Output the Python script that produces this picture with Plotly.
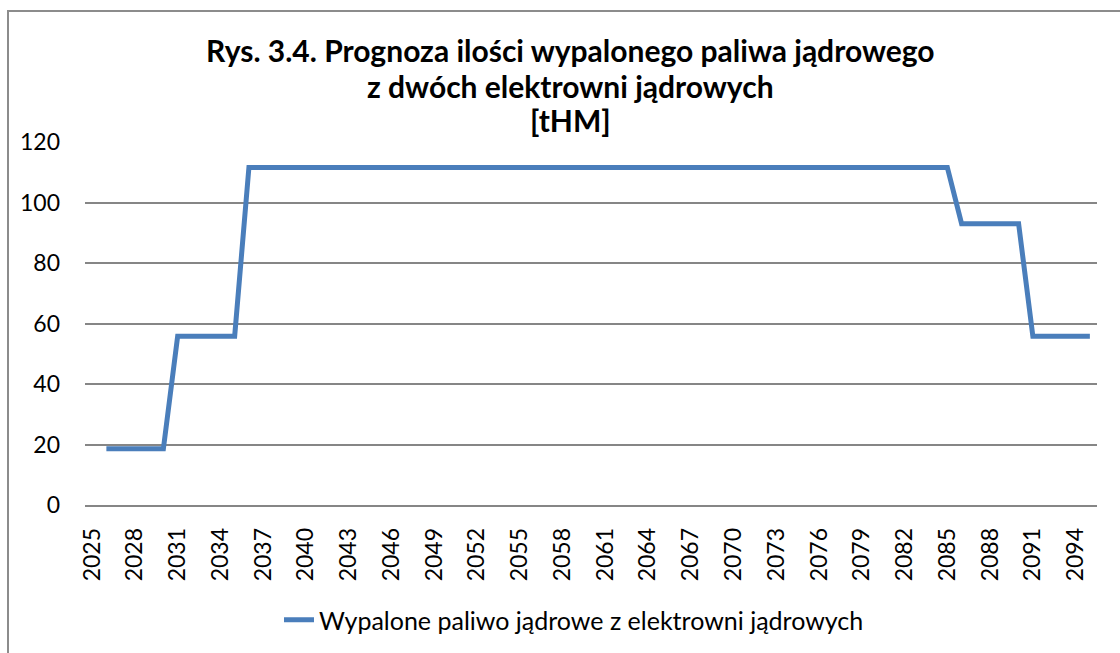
import plotly.graph_objects as go

years = [2026, 2027, 2028, 2029, 2030, 2031, 2032, 2033, 2034, 2035,
         2036, 2037, 2038, 2039, 2040, 2041, 2042, 2043, 2044, 2045,
         2046, 2047, 2048, 2049, 2050, 2051, 2052, 2053, 2054, 2055,
         2056, 2057, 2058, 2059, 2060, 2061, 2062, 2063, 2064, 2065,
         2066, 2067, 2068, 2069, 2070, 2071, 2072, 2073, 2074, 2075,
         2076, 2077, 2078, 2079, 2080, 2081, 2082, 2083, 2084, 2085,
         2086, 2087, 2088, 2089, 2090, 2091, 2092, 2093, 2094, 2095]
values = [18.6, 18.6, 18.6, 18.6, 18.6, 55.8, 55.8, 55.8, 55.8, 55.8,
          111.6, 111.6, 111.6, 111.6, 111.6, 111.6, 111.6, 111.6, 111.6, 111.6,
          111.6, 111.6, 111.6, 111.6, 111.6, 111.6, 111.6, 111.6, 111.6, 111.6,
          111.6, 111.6, 111.6, 111.6, 111.6, 111.6, 111.6, 111.6, 111.6, 111.6,
          111.6, 111.6, 111.6, 111.6, 111.6, 111.6, 111.6, 111.6, 111.6, 111.6,
          111.6, 111.6, 111.6, 111.6, 111.6, 111.6, 111.6, 111.6, 111.6, 111.6,
          93.0, 93.0, 93.0, 93.0, 93.0, 55.8, 55.8, 55.8, 55.8, 55.8]
tick_years = [2025, 2028, 2031, 2034, 2037, 2040, 2043, 2046, 2049, 2052,
              2055, 2058, 2061, 2064, 2067, 2070, 2073, 2076, 2079, 2082,
              2085, 2088, 2091, 2094]
series_name = "Wypalone paliwo jądrowe z elektrowni jądrowych"
title_lines = ["Rys. 3.4. Prognoza ilości wypalonego paliwa jądrowego",
               "z dwóch elektrowni jądrowych",
               "[tHM]"]
title_line_y = [50, 86, 120]

FONT = "Lato"
W, H = 1120, 653
L, R, T, B = 85, 23, 142, 148
pw, ph = W - L - R, H - T - B

def px_x(x):
    return (x - L) / pw

def px_y(y):
    return (H - B - y) / ph

fig = go.Figure()
fig.add_trace(go.Scatter(
    x=years, y=values, mode="lines", name=series_name,
    line=dict(color="#4A7EBB", width=5),
))

fig.update_layout(
    width=W, height=H,
    margin=dict(l=L, r=R, t=T, b=B, autoexpand=False),
    paper_bgcolor="white", plot_bgcolor="white",
    font=dict(family=FONT, color="#000000"),
    showlegend=True,
    legend=dict(orientation="h", x=px_x(574), xanchor="center",
                y=px_y(620), yanchor="middle",
                font=dict(size=25, family=FONT),
                bgcolor="rgba(0,0,0,0)"),
    xaxis=dict(
        range=[2024.5, 2095.5],
        tickmode="array", tickvals=tick_years,
        ticktext=[str(t) for t in tick_years],
        tickangle=-90, tickfont=dict(size=23, family=FONT),
        showgrid=False, zeroline=False,
        showline=True, linecolor="#868686", linewidth=1.5,
        ticks="", ticklabelstandoff=12,
    ),
    yaxis=dict(
        range=[0, 120], tickvals=[0, 20, 40, 60, 80, 100, 120],
        tickfont=dict(size=23, family=FONT),
        showgrid=True, gridcolor="#868686", gridwidth=1.5,
        zeroline=False, showline=False, ticks="",
        ticklabelstandoff=24,
    ),
)

for line, ly in zip(title_lines, title_line_y):
    fig.add_annotation(
        text="<b>" + line + "</b>",
        xref="paper", yref="paper", x=px_x(570), y=px_y(ly),
        xanchor="center", yanchor="middle", showarrow=False,
        font=dict(size=30, family=FONT, color="#000000"),
    )

fig.add_shape(type="rect", xref="paper", yref="paper",
              x0=px_x(8), y0=px_y(700), x1=px_x(1200), y1=px_y(11),
              line=dict(color="#8c8c8c", width=2), fillcolor="rgba(0,0,0,0)",
              layer="below")

fig.write_html("out.html", config={"displayModeBar": False},
               post_script="document.body.style.margin='0';")
